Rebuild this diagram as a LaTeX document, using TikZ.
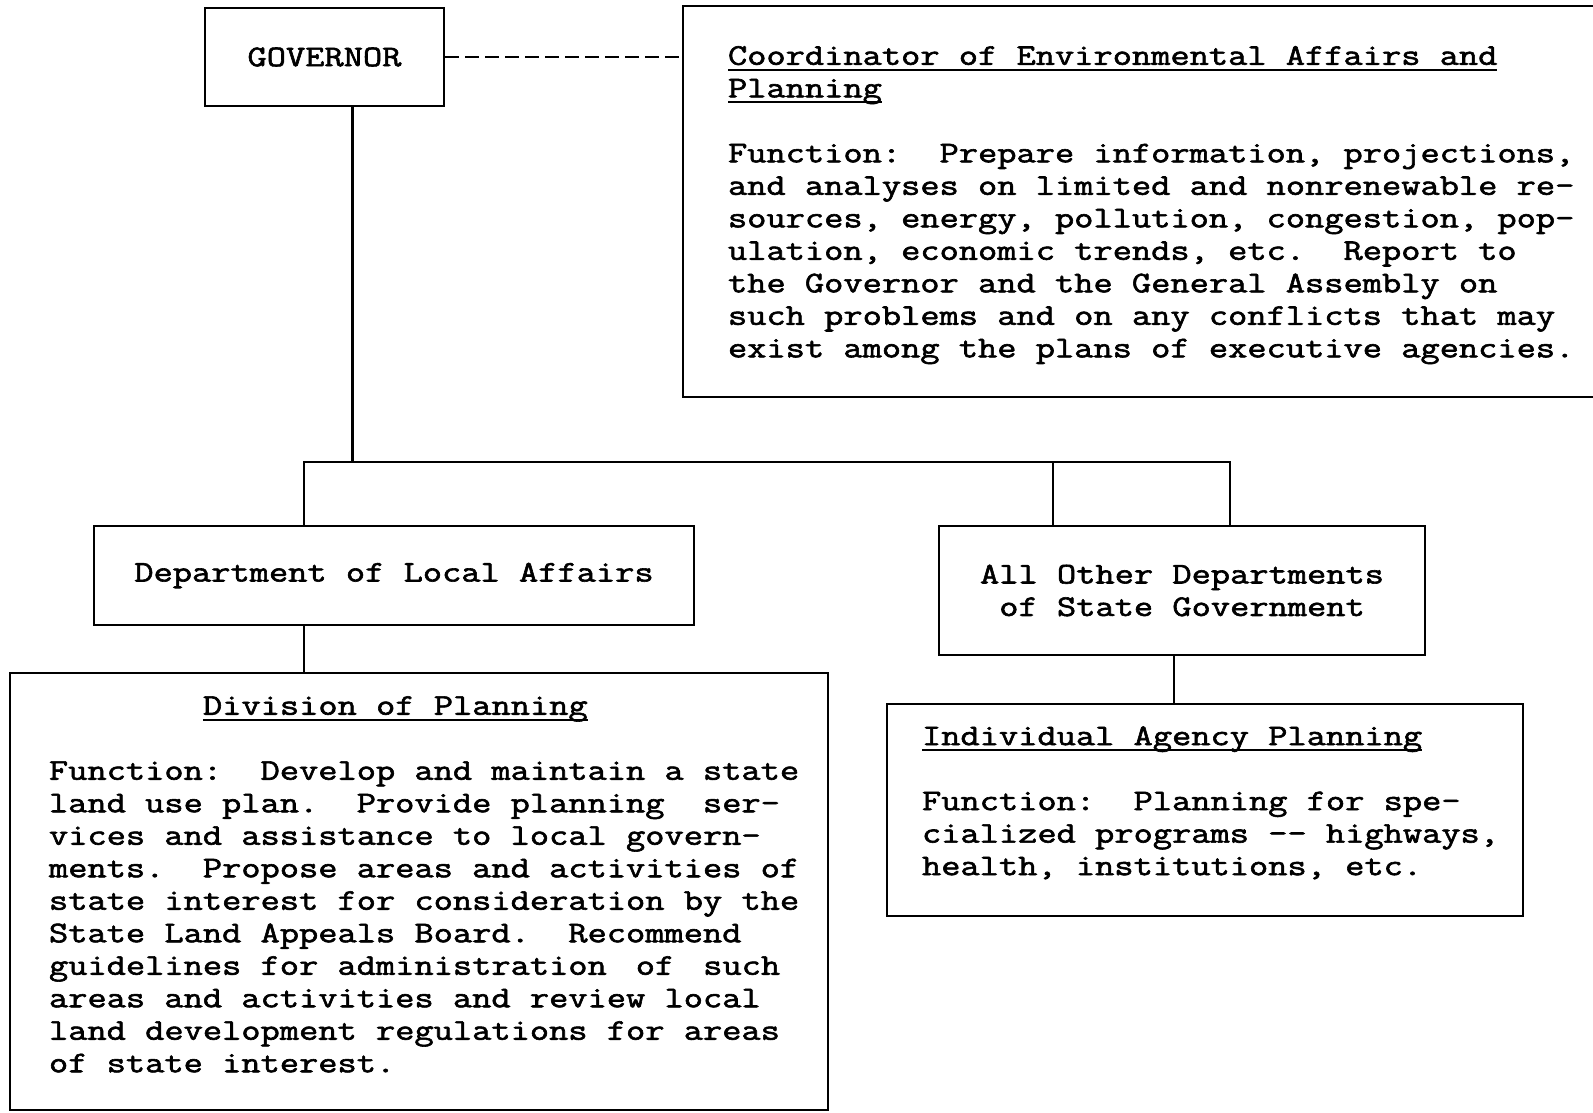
\documentclass[tikz,border=0pt]{standalone}
\usepackage{fontspec}
\newfontfamily\typeface[FakeStretch=1.245, FakeBold=2]{Latin Modern Mono}
\usetikzlibrary{positioning}
\newcommand{\typewritten}{\typeface\fontsize{15}{16.25}\selectfont
	\fontdimen2\font=\fontcharwd\font`\M\fontdimen3\font=0pt\fontdimen4\font=0pt\fontdimen7\font=0pt}
% keep every space one typewriter cell wide inside aligned nodes
\newcommand{\evenspaces}{\spaceskip=\fontdimen2\font\xspaceskip=\fontdimen2\font}
\newsavebox{\headbox}
\newcommand{\headline}[1]{\leavevmode\sbox{\headbox}{#1}\rlap{\rule[-3pt]{\wd\headbox}{1pt}}\usebox{\headbox}}

\begin{document}
\begin{tikzpicture}[x=0.5pt, y=-0.5pt, line width=1.3pt,
		every node/.style={font=\typewritten},
		unitbox/.style={draw, align=center, inner sep=0pt},
		textbox/.style={draw, align=left, inner xsep=0pt, inner ysep=0pt},
		link/.style={line width=1.3pt}]
	\useasboundingbox (0,0) rectangle (1593,1112);
	% top row
	\node[unitbox, minimum width=119.5pt, minimum height=49pt] (gov) at (324.5,57) {GOVERNOR};
	\node[textbox, text width=478.5pt, minimum height=195.5pt] (coord) at (1161.5,201.5) {\evenspaces\leftskip=22.5pt
		\rule{0pt}{13pt}\headline{Coordinator of Environmental Affairs and}\\
		\headline{Planning}\\[16.25pt]
		Function:\ \ Prepare information, projections,\\
		and analyses on limited and nonrenewable re-\\
		sources, energy, pollution, congestion, pop-\\
		ulation, economic trends, etc.\ \ Report to\\
		the Governor and the General Assembly on\\
		such problems and on any conflicts that may\\
		exist among the plans of executive agencies.\par};
	% departments
	\node[unitbox, minimum width=300pt, minimum height=49.5pt] (dept) at (394,575.5) {Department of Local Affairs};
	\node[unitbox, minimum width=243pt, minimum height=64.5pt] (other) at (1182,590.5) {All Other Departments\\of State Government};
	% planning units
	\node[textbox, text width=409pt, minimum height=218.5pt] (div) at (419,891.5) {\evenspaces\leftskip=19.5pt
		\hspace*{77pt}\headline{Division of Planning}\\[16.25pt]
		Function:\ \ Develop and maintain a state\\
		land use plan.\ \ Provide planning\ \ ser-\\
		vices and assistance to local govern-\\
		ments.\ \ Propose areas and activities of\\
		state interest for consideration by the\\
		State Land Appeals Board.\ \ Recommend\\
		guidelines for administration\hspace{14.5pt}of\hspace{14.5pt}such\\
		areas and activities and review local\\
		land development regulations for areas\\
		of state interest.\\[-9pt]\mbox{}\par};
	\node[textbox, text width=318pt, minimum height=106pt] (indiv) at (1205,810) {\evenspaces\leftskip=17.5pt
		\headline{Individual Agency Planning}\\[16.25pt]
		Function:\ \ Planning for spe-\\
		cialized programs -{}- highways,\\
		health, institutions, etc.\\[-7pt]\mbox{}\par};
	% connectors
	\coordinate (trunk) at (352.5,462);
	\coordinate (busL) at (304,462);
	\coordinate (busM) at (1053,462);
	\coordinate (busR) at (1230,462);
	\coordinate (drop) at (1174,680);
	\draw[link, dash pattern=on 7pt off 3pt] (gov.east) -- (gov.east -| coord.west);
	\draw[link] (gov.south -| trunk) -- (trunk);
	\draw[link] (busL |- dept.north) -- (busL) -- (busR) -- (busR |- other.north);
	\draw[link] (busM) -- (busM |- other.north);
	\draw[link] (dept.south -| busL) -- (div.north -| busL);
	\draw[link] (other.south -| drop) -- (indiv.north -| drop);
\end{tikzpicture}
\end{document}
